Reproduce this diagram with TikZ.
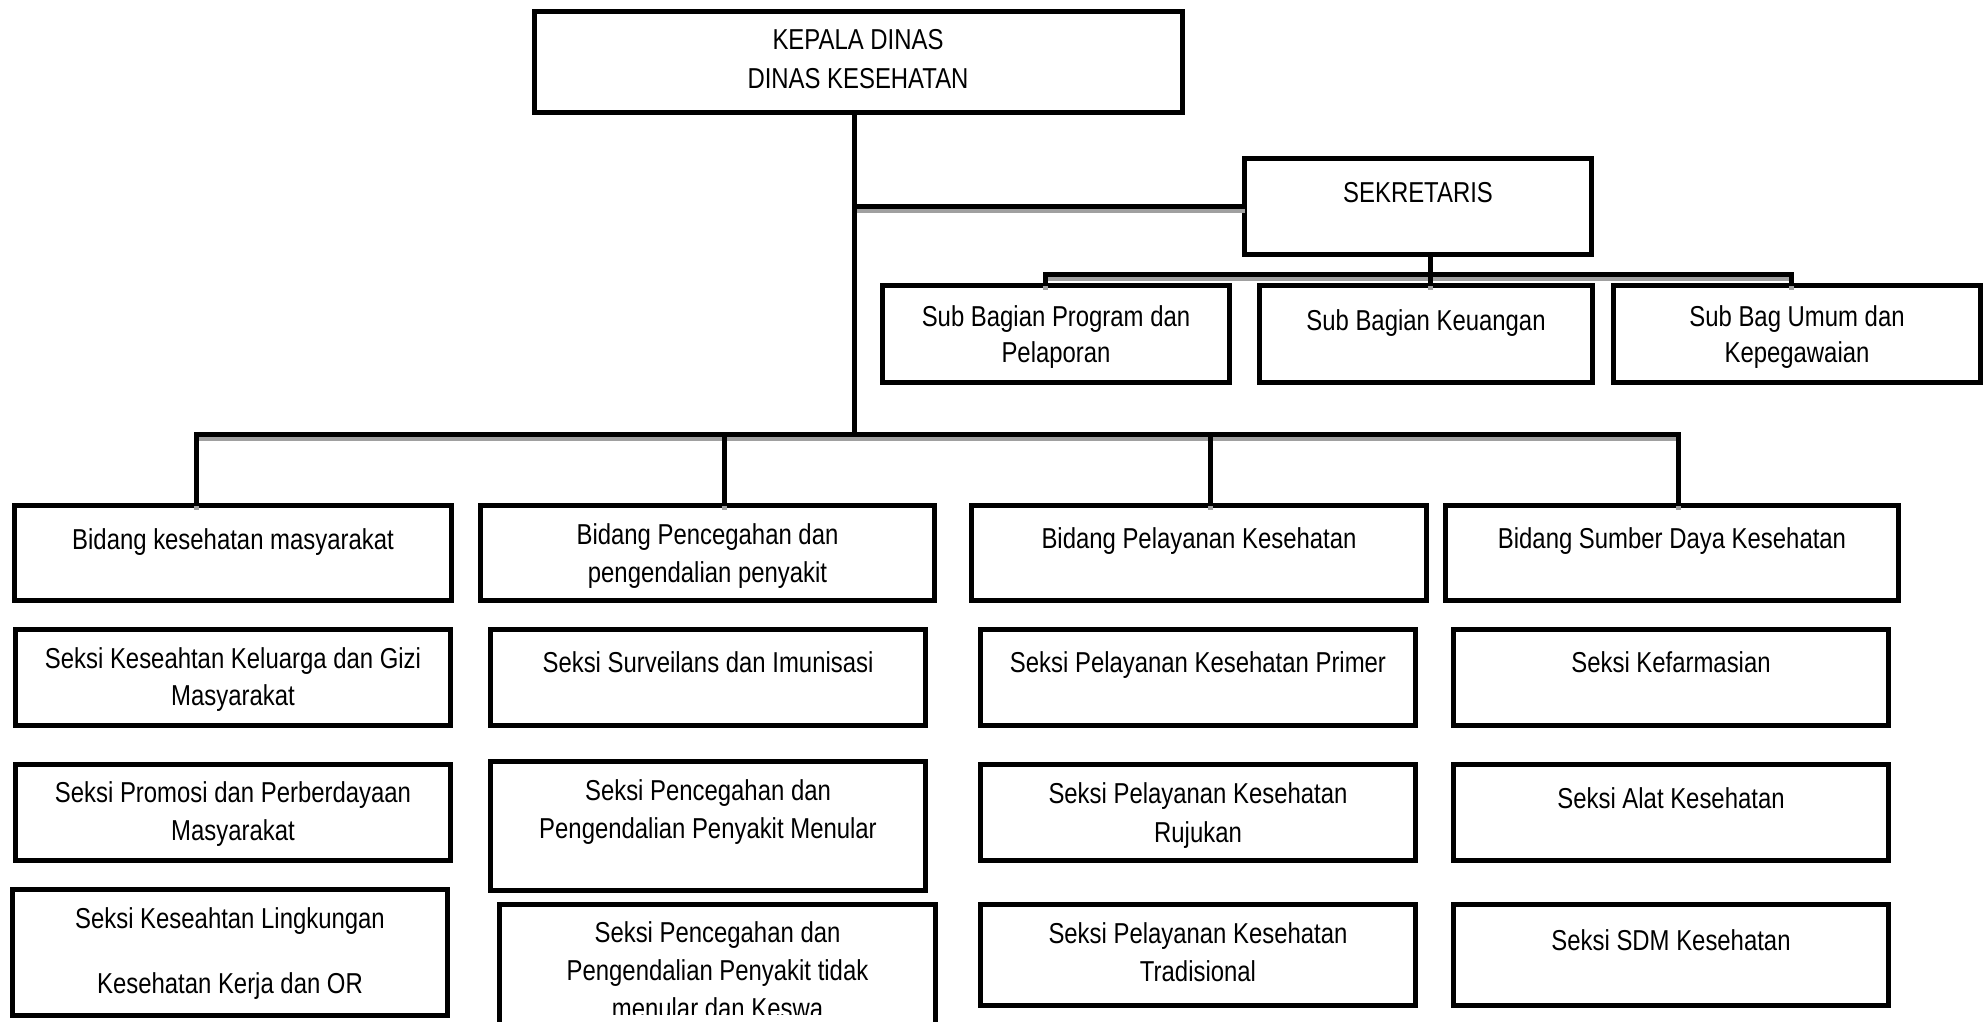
\documentclass[tikz,border=0pt]{standalone}
\usepackage{fontspec}
\setmainfont[FakeStretch=0.83]{Liberation Sans}
\definecolor{shd}{RGB}{160,160,160}
\tikzset{
  box/.style={draw=black, line width=2.5pt, rectangle, inner sep=0pt, outer sep=0pt},
  txt/.style={anchor=base, inner sep=0pt, font=\fontsize{14.4pt}{16pt}\selectfont},
  conn/.style={draw=black, line width=2.5pt},
  connshadow/.style={draw=shd, line width=2.5pt, transform canvas={yshift=-2pt}}
}
\newcommand\obox[5]{\node[box, minimum width={(#4-#2-5)*0.5pt}, minimum height={(#5-#3-5)*0.5pt}] (#1) at ({(#2+#4)/2},{(#3+#5)/2}) {};}
\newcommand\tline[4]{\node[txt] (#1) at (#2,#3) {#4};}
\begin{document}
\begin{tikzpicture}[x=0.5pt, y=-0.5pt]
\useasboundingbox (0,0) rectangle (1987,1022);
\clip (0,0) rectangle (1987,1022);
% boxes
\obox{top}{532}{9}{1185}{115}
\obox{sek}{1242}{156}{1594}{257}
\obox{sub1}{880}{283}{1232}{385}
\obox{sub2}{1257}{283}{1595}{385}
\obox{sub3}{1611}{283}{1983}{385}
\obox{bid1}{12}{503}{454}{603}
\obox{bid2}{478}{503}{937}{603}
\obox{bid3}{969}{503}{1429}{603}
\obox{bid4}{1443}{503}{1901}{603}
\obox{r1c1}{13}{627}{453}{728}
\obox{r1c2}{488}{627}{928}{728}
\obox{r1c3}{978}{627}{1418}{728}
\obox{r1c4}{1451}{627}{1891}{728}
\obox{r2c1}{13}{762}{453}{863}
\obox{r2c2}{488}{759}{928}{893}
\obox{r2c3}{978}{762}{1418}{863}
\obox{r2c4}{1451}{762}{1891}{863}
\obox{r3c1}{10}{887}{450}{1018}
\obox{r3c2}{497}{902}{938}{1040}
\obox{r3c3}{978}{902}{1418}{1008}
\obox{r3c4}{1451}{902}{1891}{1008}
% junction coordinates
\coordinate (jS) at (854,206);
\coordinate (jB) at (854,434);
\coordinate (b1) at (196,434);
\coordinate (b2) at (724,434);
\coordinate (b3) at (1210,434);
\coordinate (b4) at (1678.5,434);
\coordinate (s0) at (1430,274);
\coordinate (s1) at (1045.5,274);
\coordinate (s3) at (1791,274);
% connectors (shadow then line)
\foreach \st in {connshadow,conn}{
  \draw[\st] (top.south -| jB) -- (jB);
  \draw[\st] (jS) -- (sek.west |- jS);
  \draw[\st] (bid1.north -| b1) -- (b1) -- (b4) -- (bid4.north -| b4);
  \draw[\st] (b2) -- (bid2.north -| b2);
  \draw[\st] (b3) -- (bid3.north -| b3);
  \draw[\st] (sek.south -| s0) -- (sub2.north -| s0);
  \draw[\st] (sub1.north -| s1) -- (s1) -- (s3) -- (sub3.north -| s3);
}
% texts
\tline{t0a}{858}{50}{KEPALA DINAS}
\tline{t0b}{858}{89}{DINAS KESEHATAN}
\tline{tsk}{1418}{202}{SEKRETARIS}
\tline{ts1a}{1056}{326}{Sub Bagian Program dan}
\tline{ts1b}{1056}{362}{Pelaporan}
\tline{ts2}{1426}{330}{Sub Bagian Keuangan}
\tline{ts3a}{1797}{326}{Sub Bag Umum dan}
\tline{ts3b}{1797}{362}{Kepegawaian}
\tline{tb1}{233}{549}{Bidang kesehatan masyarakat}
\tline{tb2a}{707.5}{544}{Bidang Pencegahan dan}
\tline{tb2b}{707.5}{582}{pengendalian penyakit}
\tline{tb3}{1199}{548}{Bidang Pelayanan Kesehatan}
\tline{tb4}{1672}{548}{Bidang Sumber Daya Kesehatan}
\tline{t11a}{233}{668}{Seksi Keseahtan Keluarga dan Gizi}
\tline{t11b}{233}{705}{Masyarakat}
\tline{t12}{708}{672}{Seksi Surveilans dan Imunisasi}
\tline{t13}{1198}{672}{Seksi Pelayanan Kesehatan Primer}
\tline{t14}{1671}{672}{Seksi Kefarmasian}
\tline{t21a}{233}{802}{Seksi Promosi dan Perberdayaan}
\tline{t21b}{233}{840}{Masyarakat}
\tline{t22a}{708}{800}{Seksi Pencegahan dan}
\tline{t22b}{708}{838}{Pengendalian Penyakit Menular}
\tline{t23a}{1198}{803}{Seksi Pelayanan Kesehatan}
\tline{t23b}{1198}{842}{Rujukan}
\tline{t24}{1671}{808}{Seksi Alat Kesehatan}
\tline{t31a}{230}{928}{Seksi Keseahtan Lingkungan}
\tline{t31b}{230}{993}{Kesehatan Kerja dan OR}
\tline{t32a}{717.5}{942}{Seksi Pencegahan dan}
\tline{t32b}{717.5}{980}{Pengendalian Penyakit tidak}
\begin{scope}
\clip (480,900) rectangle (960,1014);
\tline{t32c}{717.5}{1018}{menular dan Keswa}
\end{scope}
\tline{t33a}{1198}{943}{Seksi Pelayanan Kesehatan}
\tline{t33b}{1198}{981}{Tradisional}
\tline{t34}{1671}{950}{Seksi SDM Kesehatan}
\end{tikzpicture}
\end{document}
